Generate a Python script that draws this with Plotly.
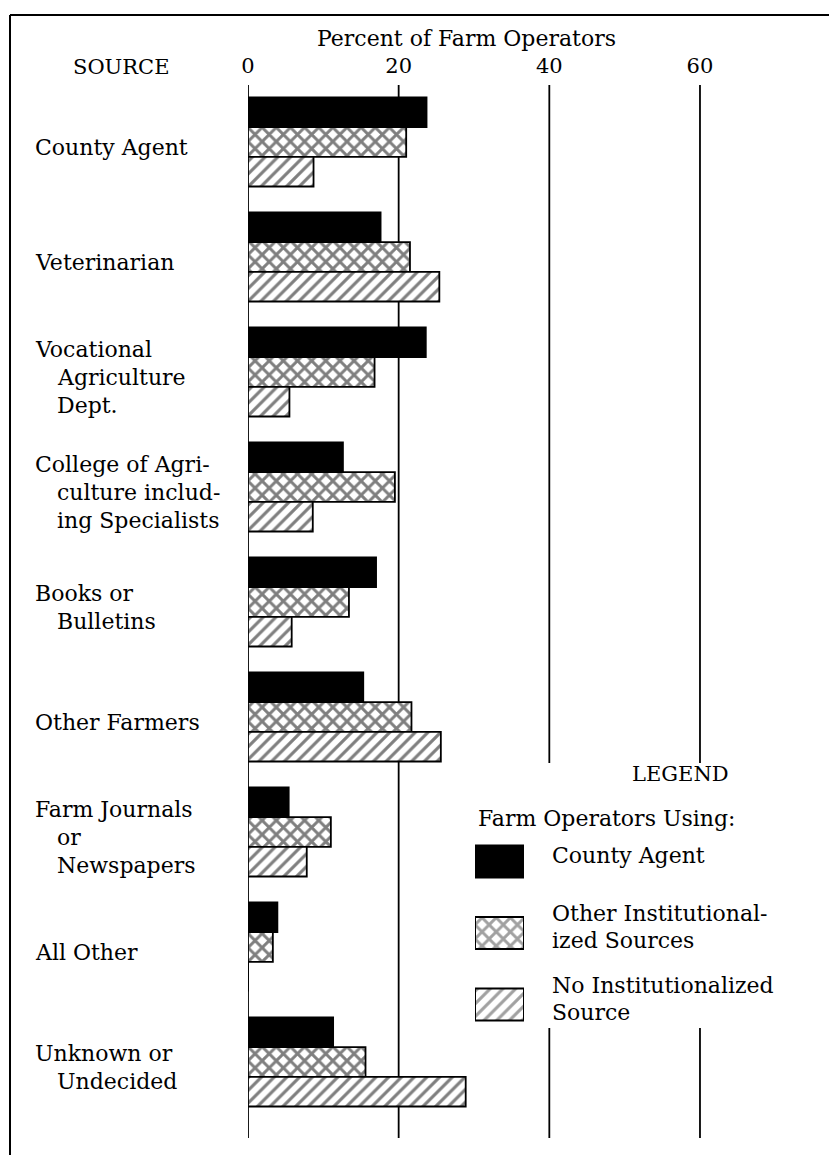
import plotly.graph_objects as go

# Fontes de informação (ordem de cima para baixo)
CATEGORIES = [
    "County Agent", "Veterinarian", "Vocational Agriculture Dept.",
    "College of Agriculture including Specialists", "Books or Bulletins",
    "Other Farmers", "Farm Journals or Newspapers", "All Other", "Unknown or Undecided",
]
LABEL_LINES = [
    ["County Agent"],
    ["Veterinarian"],
    ["Vocational", "Agriculture", "Dept."],
    ["College of Agri-", "culture includ-", "ing Specialists"],
    ["Books or", "Bulletins"],
    ["Other Farmers"],
    ["Farm Journals", "or", "Newspapers"],
    ["All Other"],
    ["Unknown or", "Undecided"],
]

SERIES_NAMES = ["County Agent", "Other Institutionalized Sources", "No Institutionalized Source"]
LEGEND_LINES = [["County Agent"], ["Other Institutional-", "ized Sources"], ["No Institutionalized", "Source"]]

COUNTY_AGENT = [23.7, 17.6, 23.6, 12.6, 17.0, 15.3, 5.4, 3.9, 11.3]
OTHER_INSTITUTIONAL = [21.0, 21.5, 16.8, 19.5, 13.4, 21.7, 11.0, 3.3, 15.6]
NO_INSTITUTIONAL = [8.7, 25.4, 5.5, 8.6, 5.8, 25.6, 7.8, 0.0, 28.9]

TICK_VALUES = [0, 20, 40, 60]

FONT = "DejaVu Serif"
OFF = 8  # margem do body da página
W, H = 837 - OFF, 1155 - OFF
L, T, B = 248 - OFF, 85 - OFF, 17
PLOT_W, PLOT_H = W - L, H - T - B


def px_x(p):
    return (p - OFF - L) / PLOT_W


def px_y(p):
    return (H - B - (p - OFF)) / PLOT_H


series_styles = [
    dict(color="black", pattern=dict(shape="")),
    dict(color="white", pattern=dict(shape="x", fgcolor="black", bgcolor="white", size=10, solidity=0.5)),
    dict(color="white", pattern=dict(shape="/", fgcolor="black", bgcolor="white", size=9, solidity=0.35)),
]

fig = go.Figure()
for name, values, style in zip(SERIES_NAMES, [COUNTY_AGENT, OTHER_INSTITUTIONAL, NO_INSTITUTIONAL], series_styles):
    fig.add_trace(go.Bar(
        y=CATEGORIES, x=values, name=name, orientation="h",
        marker=dict(color=style["color"], pattern=style["pattern"], line=dict(color="black", width=1.8)),
        showlegend=False, hoverinfo="x+y",
    ))

# amostras da legenda desenhadas como barras num eixo auxiliar
fig.add_trace(go.Bar(
    y=[0, 1, 2], x=[1, 1, 1], orientation="h", width=0.45,
    xaxis="x2", yaxis="y2", showlegend=False, hoverinfo="skip",
    marker=dict(
        color=["black", "white", "white"],
        pattern=dict(shape=["", "x", "/"], fgcolor="black", bgcolor="white", size=[10, 10, 9],
                     solidity=[0.5, 0.5, 0.35]),
        line=dict(color="black", width=2),
    ),
))

shapes = []
for v in TICK_VALUES:
    if v >= 40:
        segments = [(px_y(763), 1), (0, px_y(1028))]
    else:
        segments = [(0, 1)]
    for y0, y1 in segments:
        shapes.append(dict(type="line", xref="x", yref="paper", x0=v, x1=v, y0=y0, y1=y1,
                           line=dict(color="black", width=1.8), layer="below"))
# moldura da página
shapes.append(dict(type="line", xref="paper", yref="paper", x0=px_x(10), x1=1, y0=px_y(15), y1=px_y(15),
                   line=dict(color="black", width=2)))
shapes.append(dict(type="line", xref="paper", yref="paper", x0=px_x(10), x1=px_x(10), y0=px_y(15), y1=px_y(1155),
                   line=dict(color="black", width=2)))

annotations = []
for cat, lines in zip(CATEGORIES, LABEL_LINES):
    n = len(lines)
    for i, line in enumerate(lines):
        annotations.append(dict(
            text=line, xref="paper", yref="y", x=px_x(33 if i == 0 else 55), y=cat,
            yshift=-5 - (i - (n - 1) / 2) * 28, xanchor="left", yanchor="middle",
            showarrow=False, font=dict(family=FONT, size=22, color="black"),
        ))

annotations.append(dict(text="Percent of Farm Operators", xref="paper", yref="paper", x=px_x(466), y=px_y(38),
                        xanchor="center", yanchor="middle",
                        showarrow=False, font=dict(family=FONT, size=22, color="black")))
annotations.append(dict(text="SOURCE", xref="paper", yref="paper", x=px_x(121), y=px_y(67),
                        xanchor="center", yanchor="middle",
                        showarrow=False, font=dict(family=FONT, size=21, color="black")))
annotations.append(dict(text="LEGEND", xref="paper", yref="paper", x=px_x(680), y=px_y(774),
                        xanchor="center", yanchor="middle",
                        showarrow=False, font=dict(family=FONT, size=21, color="black")))
annotations.append(dict(text="Farm Operators Using:", xref="paper", yref="paper", x=px_x(476), y=px_y(818),
                        xanchor="left", yanchor="middle",
                        showarrow=False, font=dict(family=FONT, size=22, color="black")))
for idx, lines in enumerate(LEGEND_LINES):
    n = len(lines)
    for i, line in enumerate(lines):
        annotations.append(dict(
            text=line, xref="paper", yref="y2", x=px_x(550), y=idx,
            yshift=-(i - (n - 1) / 2) * 27 + 6, xanchor="left", yanchor="middle",
            showarrow=False, font=dict(family=FONT, size=22, color="black"),
        ))

fig.update_layout(
    width=W, height=H,
    margin=dict(l=L, r=0, t=T, b=B),
    paper_bgcolor="white", plot_bgcolor="rgba(0,0,0,0)",
    barmode="group", bargap=0.226, bargroupgap=0,
    font=dict(family=FONT, color="black"),
    showlegend=False,
    xaxis=dict(range=[0, PLOT_W / 7.533], side="top", tickvals=TICK_VALUES,
               tickfont=dict(family=FONT, size=21, color="black"),
               ticks="outside", ticklen=3, tickcolor="rgba(0,0,0,0)",
               showgrid=False, zeroline=False, showline=False, fixedrange=True),
    yaxis=dict(type="category", categoryorder="array", categoryarray=CATEGORIES,
               range=[8 + (1138 - 1062) / 115, -(142 - 85) / 115],
               showticklabels=False, showgrid=False, zeroline=False, showline=False, ticks=""),
    xaxis2=dict(domain=[px_x(475), px_x(524)], range=[0, 1], visible=False, anchor="y2"),
    yaxis2=dict(domain=[px_y(1040.25), px_y(825.75)], range=[2.5, -0.5], visible=False, anchor="x2"),
    shapes=shapes,
    annotations=annotations,
)

fig.write_html("out.html")
